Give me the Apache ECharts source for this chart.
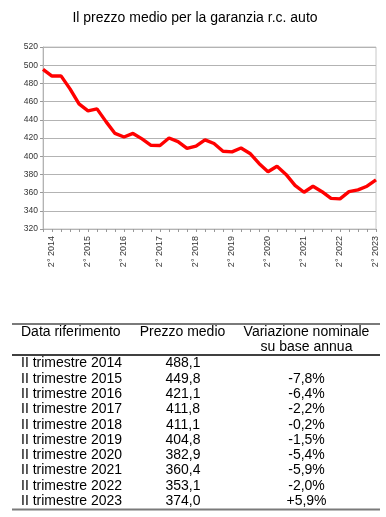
<!DOCTYPE html>
<html>
<head>
<meta charset="utf-8">
<script src="https://cdn.jsdelivr.net/npm/echarts@6/dist/echarts.min.js"></script>
<style>
html,body{margin:0;padding:0;background:#fff;}
#chart{width:386px;height:517px;}
</style>
</head>
<body>
<div id="chart"></div>
<script>
// ---- Data ----
const titleText = 'Il prezzo medio per la garanzia r.c. auto';
const categories = [
  '1° 2014','2° 2014','3° 2014','4° 2014',
  '1° 2015','2° 2015','3° 2015','4° 2015',
  '1° 2016','2° 2016','3° 2016','4° 2016',
  '1° 2017','2° 2017','3° 2017','4° 2017',
  '1° 2018','2° 2018','3° 2018','4° 2018',
  '1° 2019','2° 2019','3° 2019','4° 2019',
  '1° 2020','2° 2020','3° 2020','4° 2020',
  '1° 2021','2° 2021','3° 2021','4° 2021',
  '1° 2022','2° 2022','3° 2022','4° 2022',
  '1° 2023','2° 2023'
];
const prezzo = [
  495.5, 488.1, 488.3, 474.0,
  457.5, 449.8, 452.0, 438.0,
  425.0, 421.1, 425.0, 419.0,
  412.0, 411.8, 420.0, 416.0,
  408.7, 411.1, 418.0, 414.0,
  405.5, 404.8, 409.0, 403.0,
  392.0, 382.9, 389.0, 380.0,
  368.0, 360.4, 367.0, 361.0,
  353.7, 353.1, 361.0, 363.0,
  367.0, 374.0
];
const yMin = 320, yMax = 520, yStep = 20;

const tableHeaders = ['Data riferimento', 'Prezzo medio', 'Variazione nominale', 'su base annua'];
const rowLabels = ['II trimestre 2014','II trimestre 2015','II trimestre 2016','II trimestre 2017','II trimestre 2018',
                   'II trimestre 2019','II trimestre 2020','II trimestre 2021','II trimestre 2022','II trimestre 2023'];
const rowPrices = ['488,1','449,8','421,1','411,8','411,1','404,8','382,9','360,4','353,1','374,0'];
const rowChanges = ['','-7,8%','-6,4%','-2,2%','-0,2%','-1,5%','-5,4%','-5,9%','-2,0%','+5,9%'];

// ---- Chart ----
const FONT = '"Liberation Sans", Arial, sans-serif';
const chart = echarts.init(document.getElementById('chart'), null, {renderer: 'canvas'});

const graphics = [];
graphics.push({type:'text', x:195, y:18, style:{text:titleText, font:'14px ' + FONT, fill:'#000', align:'center', verticalAlign:'middle'}});

// table lines
graphics.push({type:'line', shape:{x1:12, y1:324, x2:380, y2:324}, style:{stroke:'#7a7a7a', lineWidth:2}});
graphics.push({type:'line', shape:{x1:12, y1:355, x2:380, y2:355}, style:{stroke:'#000', lineWidth:1.3}});
graphics.push({type:'line', shape:{x1:12, y1:509.5, x2:380, y2:509.5}, style:{stroke:'#7a7a7a', lineWidth:2}});

const tf = '14px ' + FONT;
graphics.push({type:'text', x:21, y:332, style:{text:tableHeaders[0], font:tf, fill:'#000', align:'left', verticalAlign:'middle'}});
graphics.push({type:'text', x:182.5, y:332, style:{text:tableHeaders[1], font:tf, fill:'#000', align:'center', verticalAlign:'middle'}});
graphics.push({type:'text', x:306.5, y:332, style:{text:tableHeaders[2], font:tf, fill:'#000', align:'center', verticalAlign:'middle'}});
graphics.push({type:'text', x:306.5, y:347, style:{text:tableHeaders[3], font:tf, fill:'#000', align:'center', verticalAlign:'middle'}});

rowLabels.forEach(function(lbl, i){
  const y = 363.5 + i * 15.3;
  graphics.push({type:'text', x:21, y:y, style:{text:lbl, font:tf, fill:'#000', align:'left', verticalAlign:'middle'}});
  graphics.push({type:'text', x:183, y:y, style:{text:rowPrices[i], font:tf, fill:'#000', align:'center', verticalAlign:'middle'}});
  if (rowChanges[i]) {
    graphics.push({type:'text', x:306.5, y:y, style:{text:rowChanges[i], font:tf, fill:'#000', align:'center', verticalAlign:'middle'}});
  }
});

chart.setOption({
  animation: false,
  backgroundColor: '#fff',
  textStyle: {fontFamily: FONT},
  grid: {left: 43, top: 47, width: 333, height: 182, show: true, borderColor: '#c8c8c8', borderWidth: 1, backgroundColor: 'transparent'},
  xAxis: {
    type: 'category',
    data: categories,
    boundaryGap: false,
    axisLine: {show: true, lineStyle: {color: '#b3b3b3', width: 1}},
    axisTick: {show: true, interval: 0, length: 3, lineStyle: {color: '#999'}},
    axisLabel: {
      interval: function(i){ return i % 4 === 1; },
      rotate: 90, fontSize: 9, color: '#333', margin: 7, fontFamily: FONT
    },
    splitLine: {show: false}
  },
  yAxis: {
    type: 'value',
    min: yMin, max: yMax, interval: yStep,
    axisLine: {show: true, lineStyle: {color: '#b3b3b3'}},
    axisTick: {show: true, length: 3, lineStyle: {color: '#999'}},
    axisLabel: {fontSize: 8.5, color: '#333', margin: 5, fontFamily: FONT},
    splitLine: {show: true, lineStyle: {color: '#b3b3b3', width: 1}}
  },
  series: [{
    type: 'line',
    data: prezzo,
    symbol: 'none',
    lineStyle: {color: '#ff0000', width: 3.4},
    z: 5
  }],
  graphic: graphics
});
</script>
</body>
</html>
